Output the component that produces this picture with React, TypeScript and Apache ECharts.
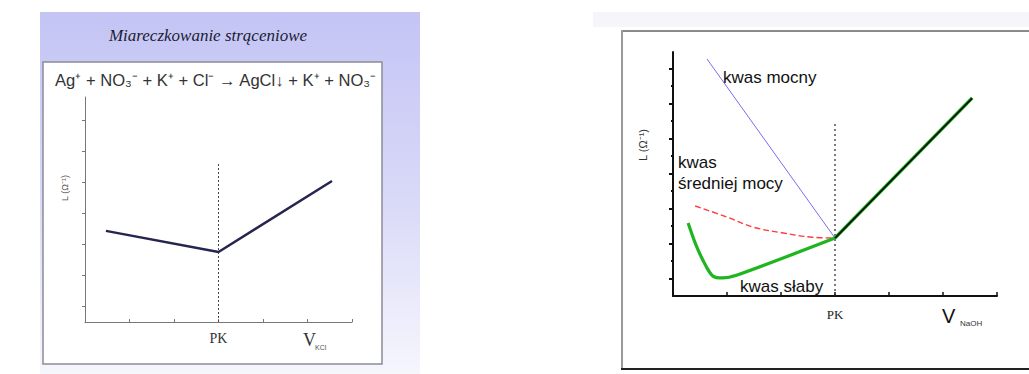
import React, { useEffect, useRef } from "react";
import * as echarts from "echarts";

// ---- Left chart (Miareczkowanie strąceniowe) ----
const leftX = [0.47, 3, 5.55];
const leftY = [2.94, 2.26, 4.55];
const leftPK = 3;
const leftPKTop = 5.13;
const leftXTicks = [0, 1, 2, 3, 4, 5, 6];
const leftYTicks = [0.5, 1.5, 2.5, 3.5, 4.5, 5.5, 6.5];

// ---- Right chart (kwasy) ----
const rightPK = 3;
const rightPKTop = 10;
const strongX = [0.63, 3];
const strongY = [13.54, 3.31];
const mediumX = [0.41, 1.0, 1.48, 2.04, 2.54, 3];
const mediumY = [5.14, 4.51, 3.94, 3.6, 3.37, 3.31];
const weakX = [0.28, 0.44, 0.63, 0.74, 0.91, 1.19, 3];
const weakY = [4.17, 2.8, 1.6, 1.14, 1.03, 1.2, 3.31];
const afterX = [3, 5.54];
const afterY = [3.31, 11.31];
const rightXTicks = [0, 1, 2, 3, 4, 5, 6];
const rightYMajor = [1, 3, 5, 7, 9, 11, 13];
const rightYMinor = [2, 4, 6, 8, 10, 12];

const pairs = (xs: number[], ys: number[]) => xs.map((x, i) => [x, ys[i]]);

export default function App() {
  const ref = useRef<HTMLDivElement>(null);
  useEffect(() => {
    if (!ref.current) return;
    const chart = echarts.init(ref.current, undefined, { renderer: "svg" });
    const serif = "Liberation Serif";
    const sans = "Liberation Sans";
    chart.setOption({
      animation: false,
      grid: [
        { left: 85, top: 97, width: 267, height: 225 },
        { left: 673, top: 52, width: 324, height: 244 },
      ],
      xAxis: [
        {
          gridIndex: 0, type: "value", min: 0, max: 6,
          axisLine: { lineStyle: { color: "#777", width: 1 } },
          axisTick: { inside: true, length: 3, customValues: leftXTicks, lineStyle: { color: "#777" } },
          axisLabel: {
            customValues: [leftPK], formatter: () => "PK", margin: 9,
            fontFamily: serif, fontSize: 14, color: "#333",
          },
          splitLine: { show: false },
        },
        {
          gridIndex: 1, type: "value", min: 0, max: 6,
          axisLine: { lineStyle: { color: "#111", width: 2 } },
          axisTick: { inside: true, length: 4, customValues: rightXTicks, lineStyle: { color: "#111", width: 1.5 } },
          axisLabel: {
            customValues: [rightPK], formatter: () => "PK", margin: 12,
            fontFamily: serif, fontSize: 13, color: "#222",
          },
          splitLine: { show: false },
        },
      ],
      yAxis: [
        {
          gridIndex: 0, type: "value", min: 0, max: 7.26, position: "left",
          axisLine: { show: true, lineStyle: { color: "#777", width: 1 } },
          axisTick: { show: true, length: 3, customValues: leftYTicks, lineStyle: { color: "#777" } },
          axisLabel: { show: false },
          splitLine: { show: false },
        },
        {
          gridIndex: 1, type: "value", min: 0, max: 13.94, position: "left",
          axisLine: { show: true, lineStyle: { color: "#111", width: 2 } },
          axisTick: { show: true, length: 4, customValues: rightYMajor, lineStyle: { color: "#111", width: 2 } },
          axisLabel: { show: false },
          splitLine: { show: false },
        },
        {
          gridIndex: 1, type: "value", min: 0, max: 13.94, position: "left", offset: 0,
          axisLine: { show: false },
          axisTick: { show: true, length: 2, customValues: rightYMinor, lineStyle: { color: "#111", width: 2 } },
          axisLabel: { show: false },
          splitLine: { show: false },
        },
      ],
      series: [
        {
          type: "line", xAxisIndex: 0, yAxisIndex: 0, symbol: "none",
          data: [[leftPK, 0], [leftPK, leftPKTop]],
          lineStyle: { color: "#444", width: 1, type: [2, 2] },
        },
        {
          type: "line", xAxisIndex: 0, yAxisIndex: 0, symbol: "none",
          data: pairs(leftX, leftY),
          lineStyle: { color: "#25254f", width: 2.5 },
        },
        {
          type: "line", xAxisIndex: 1, yAxisIndex: 1, symbol: "none",
          data: [[rightPK, 0], [rightPK, rightPKTop]],
          lineStyle: { color: "#222", width: 1.2, type: [2, 3] },
        },
        {
          type: "line", xAxisIndex: 1, yAxisIndex: 1, symbol: "none",
          data: pairs(strongX, strongY),
          lineStyle: { color: "#7a6cf0", width: 1 },
        },
        {
          type: "line", xAxisIndex: 1, yAxisIndex: 1, symbol: "none", smooth: 0.4,
          data: pairs(mediumX, mediumY),
          lineStyle: { color: "#ff3a3a", width: 1.4, type: [6, 3] },
        },
        {
          type: "line", xAxisIndex: 1, yAxisIndex: 1, symbol: "none", smooth: 0.3,
          data: pairs(weakX, weakY),
          lineStyle: { color: "#1fb51f", width: 3.2 },
        },
        {
          type: "line", xAxisIndex: 1, yAxisIndex: 1, symbol: "none",
          data: pairs(afterX, afterY),
          lineStyle: { color: "#1fb51f", width: 3.4 },
        },
        {
          type: "line", xAxisIndex: 1, yAxisIndex: 1, symbol: "none",
          data: pairs(afterX, afterY),
          lineStyle: { color: "#111", width: 1.8 },
        },
      ],
      graphic: [
        // left panel background
        {
          type: "rect", z: -20, silent: true,
          shape: { x: 40, y: 12, width: 380, height: 362 },
          style: {
            fill: new echarts.graphic.LinearGradient(0, 0, 0, 1, [
              { offset: 0, color: "#c4c4f5" },
              { offset: 0.5, color: "#d8d8f8" },
              { offset: 1, color: "#f6f6fd" },
            ]),
          },
        },
        {
          type: "rect", z: -10, silent: true,
          shape: { x: 43, y: 62, width: 339, height: 302 },
          style: { fill: "#ffffff", stroke: "#8c8c96", lineWidth: 1.5 },
        },
        {
          type: "text", z: 100, x: 208, y: 35,
          style: {
            text: "Miareczkowanie strąceniowe", fontFamily: serif, fontStyle: "italic",
            fontSize: 17, fill: "#1c1c34", align: "center", verticalAlign: "middle",
          },
        },
        {
          type: "text", z: 100, x: 55, y: 80,
          style: {
            text: "Ag⁺ + NO₃⁻ + K⁺ + Cl⁻ → AgCl↓ + K⁺ + NO₃⁻", fontFamily: sans,
            fontSize: 16.6, fill: "#333", align: "left", verticalAlign: "middle",
          },
        },
        {
          type: "text", z: 100, x: 65, y: 188, rotation: Math.PI / 2,
          style: {
            text: "L (Ω⁻¹)", fontFamily: sans, fontSize: 9, fill: "#555",
            align: "center", verticalAlign: "middle",
          },
        },
        {
          type: "text", z: 100, x: 303, y: 340,
          style: { text: "V", fontFamily: serif, fontSize: 18, fill: "#333", align: "left", verticalAlign: "middle" },
        },
        {
          type: "text", z: 100, x: 315, y: 347,
          style: { text: "KCl", fontFamily: sans, fontSize: 7, fill: "#555", align: "left", verticalAlign: "middle" },
        },
        // right panel
        {
          type: "rect", z: -20, silent: true,
          shape: { x: 593, y: 12, width: 436, height: 15 },
          style: { fill: "#f6f6fa" },
        },
        {
          type: "line", z: 50, silent: true,
          shape: { x1: 622, y1: 31, x2: 1029, y2: 31 },
          style: { stroke: "#8a8a8a", lineWidth: 2 },
        },
        {
          type: "line", z: 50, silent: true,
          shape: { x1: 622, y1: 30, x2: 622, y2: 370 },
          style: { stroke: "#9a9a9a", lineWidth: 2 },
        },
        {
          type: "line", z: 50, silent: true,
          shape: { x1: 621, y1: 369, x2: 1029, y2: 369 },
          style: { stroke: "#222", lineWidth: 2 },
        },
        {
          type: "text", z: 100, x: 643, y: 145, rotation: Math.PI / 2,
          style: {
            text: "L (Ω⁻¹)", fontFamily: sans, fontSize: 11, fill: "#333",
            align: "center", verticalAlign: "middle",
          },
        },
        {
          type: "text", z: 100, x: 723, y: 77,
          style: { text: "kwas mocny", fontFamily: sans, fontSize: 17, fill: "#111", verticalAlign: "middle" },
        },
        {
          type: "text", z: 100, x: 678, y: 162,
          style: { text: "kwas", fontFamily: sans, fontSize: 17, fill: "#111", verticalAlign: "middle" },
        },
        {
          type: "text", z: 100, x: 678, y: 183,
          style: { text: "średniej mocy", fontFamily: sans, fontSize: 17, fill: "#111", verticalAlign: "middle" },
        },
        {
          type: "text", z: 100, x: 740, y: 286,
          style: { text: "kwas słaby", fontFamily: sans, fontSize: 17, fill: "#111", verticalAlign: "middle" },
        },
        {
          type: "text", z: 100, x: 942, y: 316,
          style: { text: "V", fontFamily: sans, fontSize: 20, fill: "#111", verticalAlign: "middle" },
        },
        {
          type: "text", z: 100, x: 960, y: 323,
          style: { text: "NaOH", fontFamily: sans, fontSize: 8, fill: "#333", verticalAlign: "middle" },
        },
      ],
    });
    return () => chart.dispose();
  }, []);
  return (
    <div
      ref={ref}
      style={{ position: "absolute", left: 0, top: 0, width: "1029px", height: "374px", background: "#fff" }}
    />
  );
}
